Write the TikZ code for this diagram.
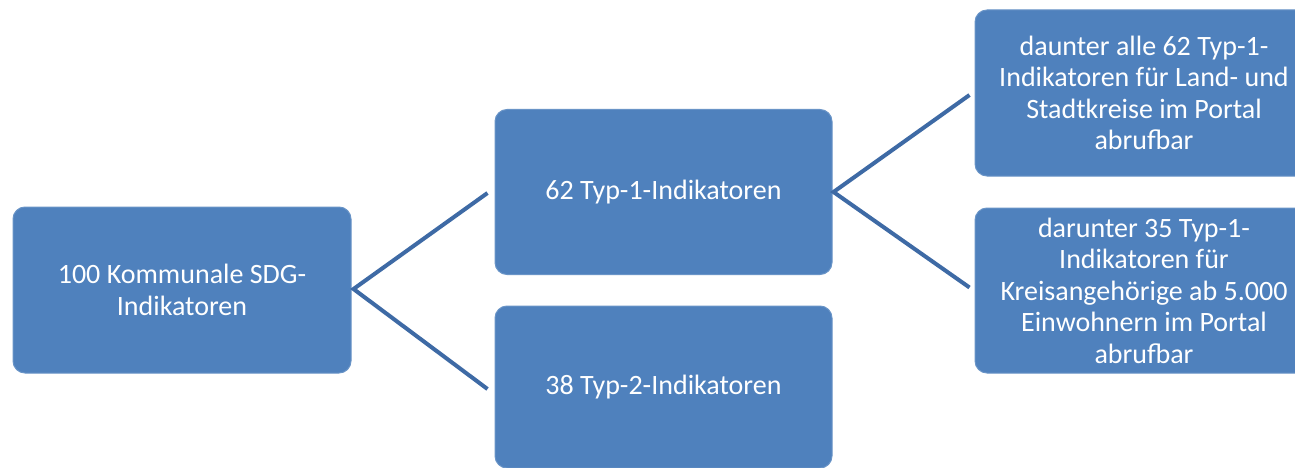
\documentclass[tikz,border=0pt]{standalone}
\usepackage{fontspec}
\setmainfont{Carlito}
\usetikzlibrary{calc}
\definecolor{boxblue}{RGB}{79,129,189}
\definecolor{lineblue}{RGB}{62,106,165}
\tikzset{
  box/.style={rectangle, rounded corners=12pt, fill=boxblue, draw=boxblue!85!white, line width=1pt,
    text=white, align=center, inner sep=0pt,
    font=\fontsize{28}{31.5}\selectfont},
  bracket/.style={draw=lineblue, line width=4pt, line join=miter}
}
\begin{document}
\begin{tikzpicture}[x=1pt,y=-1pt]
\useasboundingbox (0,0) rectangle (1295,468);
\clip (0,0) rectangle (1295,468);
\fill[white] (0,0) rectangle (1295,468);
\node[box, minimum width=338pt, minimum height=166pt] (root) at (182,290) {100 Kommunale SDG-\\Indikatoren};
\node[box, minimum width=337pt, minimum height=165pt] (typ1) at (663.5,192) {62 Typ-1-Indikatoren};
\node[box, minimum width=337pt, minimum height=162pt] (typ2) at (663.5,387) {38 Typ-2-Indikatoren};
\node[box, minimum width=338pt, minimum height=166pt] (land) at (1144,93) {daunter alle 62 Typ-1-\\Indikatoren für Land- und\\Stadtkreise im Portal\\abrufbar};
\node[box, minimum width=338pt, minimum height=165pt] (kreis) at (1144,290.5) {darunter 35 Typ-1-\\Indikatoren für\\Kreisangehörige ab 5.000\\Einwohnern im Portal\\abrufbar};
\coordinate (a1) at ($(root.east)+(2,-1)$);
\coordinate (e1) at ($(typ1.west)+(-7,1)$);
\coordinate (e2) at ($(typ2.west)+(-7,2)$);
\coordinate (a2) at ($(typ1.east)+(1,0)$);
\coordinate (e3) at ($(land.west)+(-5,2)$);
\coordinate (e4) at ($(kreis.west)+(-5,-3)$);
\draw[bracket] (e1) -- (a1) -- (e2);
\draw[bracket] (e3) -- (a2) -- (e4);
\end{tikzpicture}
\end{document}
